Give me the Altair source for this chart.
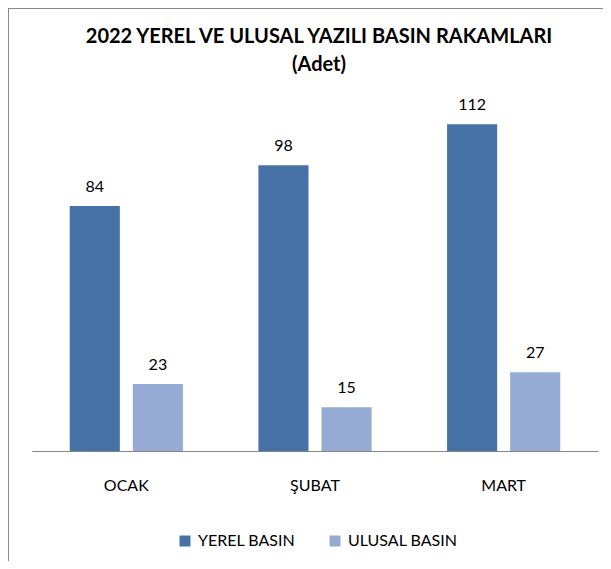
import altair as alt
import pandas as pd

months = ["OCAK", "ŞUBAT", "MART"]
series = ["YEREL BASIN", "ULUSAL BASIN"]
yerel = [84, 98, 112]
ulusal = [23, 15, 27]
colors = ["#4672A8", "#95ABD3"]
title_lines = ["2022 YEREL VE ULUSAL YAZILI BASIN RAKAMLARI", "(Adet)"]

rows = []
for i, m in enumerate(months):
    rows.append({"month": m, "series": series[0], "value": yerel[i]})
    rows.append({"month": m, "series": series[1], "value": ulusal[i]})
df = pd.DataFrame(rows)

FONT = "Lato"

x = alt.X("month:N", sort=months, title=None,
          scale=alt.Scale(paddingInner=0.4, paddingOuter=0.2),
          axis=alt.Axis(labelAngle=0, ticks=False, labelFontSize=16, labelFont=FONT,
                        labelColor="#000000", labelPadding=26, domainColor="#868686",
                        domainWidth=1))
xo = alt.XOffset("series:N", sort=series, scale=alt.Scale(paddingInner=0.206, paddingOuter=0))
y = alt.Y("value:Q", scale=alt.Scale(domain=[0, 120]), axis=None)

bars = alt.Chart(df).mark_bar().encode(
    x=x, xOffset=xo, y=y,
    color=alt.Color("series:N", sort=series,
                    scale=alt.Scale(domain=series, range=colors),
                    legend=alt.Legend(title=None, orient="none", direction="horizontal",
                                      legendX=145, legendY=432, symbolType="square",
                                      symbolSize=121, symbolStrokeWidth=0,
                                      labelFontSize=16, labelFont=FONT, labelColor="#000000",
                                      labelOffset=5, columnPadding=31)),
)

labels = alt.Chart(df).mark_text(fontSize=16, font=FONT, baseline="alphabetic", dy=-14,
                                 color="#000000").encode(
    x=x, xOffset=xo, y=y, text="value:Q")

title_df = pd.DataFrame({"t": title_lines, "ypos": [-64, -36]})
title = alt.Chart(title_df).mark_text(fontSize=20, font=FONT, fontWeight="bold",
                                      baseline="middle", align="center",
                                      color="#000000").encode(
    x=alt.value(287), y=alt.Y("ypos:Q", scale=None), text="t:N")

frame_top = alt.Chart(df).mark_rule(color="#898989", strokeWidth=1).encode(
    x=alt.value(-23.5), x2=alt.value(700), y=alt.value(-92.5))
frame_left = alt.Chart(df).mark_rule(color="#898989", strokeWidth=1).encode(
    x=alt.value(-23.5), y=alt.value(-92.5), y2=alt.value(600))

chart = alt.layer(frame_top, frame_left, bars, labels, title).resolve_scale(
    y="independent").properties(
    width=566, height=350,
    autosize=alt.AutoSizeParams(type="none"),
    padding={"left": 24, "top": 93, "right": 5, "bottom": 110},
).configure_view(stroke=None)

chart.save("out.html", embed_options={"renderer": "svg", "actions": False})
